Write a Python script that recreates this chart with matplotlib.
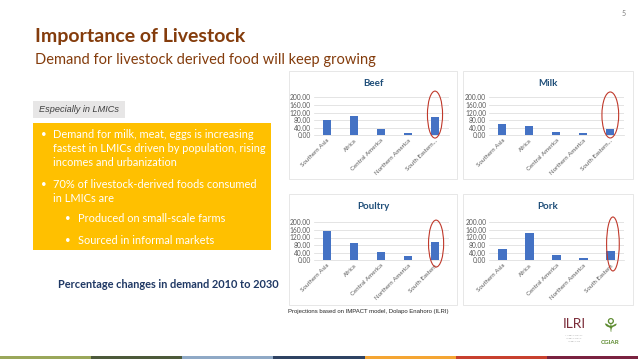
import matplotlib
matplotlib.use("Agg")
import matplotlib.pyplot as plt
from matplotlib.patches import Rectangle, Ellipse

# data (percentage change in demand 2010-2030)
regions_top = ["Southern Asia", "Africa", "Central America", "Northern America", "South Eastern..."]
regions_bottom = ["Southern Asia", "Africa", "Central America", "Northern America", "South Eastern"]
beef = [81, 102, 35, 11, 95]
milk = [60, 49, 18, 14, 33]
poultry = [154, 89, 44, 23, 95]
pork = [60, 146, 28, 10, 51]
y_ticks = [0, 40, 80, 120, 160, 200]

W, H = 638, 359
BROWN = "#843C0C"
BAR = "#4472C4"
GREY_TXT = "#595959"

plt.rcParams["font.family"] = ["Lato", "DejaVu Sans"]
fig = plt.figure(figsize=(W / 100, H / 100), dpi=100)
fig.patch.set_facecolor("white")


def fx(px):
    return px / W


def fy(py):
    return 1 - py / H


def frame(x0, y0, x1, y1, **kw):
    fig.patches.append(Rectangle((fx(x0), fy(y1)), fx(x1) - fx(x0), fy(y0) - fy(y1),
                                 transform=fig.transFigure, **kw))


# slide text
fig.text(fx(35), fy(42), "Importance of Livestock", fontsize=14, fontweight="bold",
         color=BROWN, va="baseline")
fig.text(fx(35), fy(64), "Demand for livestock derived food will keep growing", fontsize=10.5,
         color=BROWN, va="baseline")
fig.text(fx(624), fy(14), "5", fontsize=5, color="#7F7F7F", ha="center", va="center")

frame(33, 101, 125, 118, facecolor="#E7E6E6", edgecolor="none")
fig.text(fx(39), fy(109.5), "Especially in LMICs", fontsize=6.6, style="italic",
         color="#3F3F3F", va="center", family=["Liberation Sans"])

frame(33, 123, 271, 250, facecolor="#FFC000", edgecolor="none")
bullets = [
    (41, 53, 134, "Demand for milk, meat, eggs is increasing", True),
    (41, 53, 148, "fastest in LMICs driven by population, rising", False),
    (41, 53, 162, "incomes and urbanization", False),
    (41, 53, 184, "70% of livestock-derived foods consumed", True),
    (41, 53, 198, "in LMICs are", False),
    (65, 78, 219, "Produced on small-scale farms", True),
    (65, 78, 240, "Sourced in informal markets", True),
]
for bx, tx, ty, txt, dot in bullets:
    if dot:
        fig.text(fx(bx), fy(ty), "\u2022", fontsize=7, color="white", va="center")
    fig.text(fx(tx), fy(ty), txt, fontsize=7.9, color="white", va="center")

fig.text(fx(58), fy(284), "Percentage changes in demand 2010 to 2030", fontsize=7.9,
         fontweight="bold", color="#1F3864", va="center")

# chart panels
panels = [
    ("Beef", beef, regions_top, (289, 71, 457, 179), (313.5, 448.5, 97.3, 135.3), (4.0, 109, 0.56, 247)),
    ("Milk", milk, regions_top, (463, 71, 633, 179), (488.8, 623.8, 97.3, 135.3), (4.0, 107, 0.62, 242)),
    ("Poultry", poultry, regions_bottom, (289, 194, 457, 305), (313.5, 448.5, 222.3, 260.3), (4.04, 88, 0.56, 247)),
    ("Pork", pork, regions_bottom, (463, 194, 633, 305), (489, 624, 222.3, 260.3), (4.09, 86, 0.47, 284)),
]
for title, vals, cats, box, ax_px, ell in panels:
    frame(*box, facecolor="none", edgecolor="#E3E3E3", linewidth=0.6)
    l, r, t, b = ax_px
    ax = fig.add_axes([fx(l), fy(b), fx(r) - fx(l), fy(t) - fy(b)])
    x = list(range(len(vals)))
    ax.bar(x, vals, width=0.31, color=BAR, zorder=3)
    ax.set_xlim(-0.5, len(vals) - 0.5)
    ax.set_ylim(0, 200)
    ax.set_yticks(y_ticks)
    ax.set_yticklabels(["%.2f" % v for v in y_ticks], fontsize=4.8)
    ax.set_xticks(x)
    ax.set_xticklabels(cats, rotation=45, ha="right", va="top", rotation_mode="anchor",
                       fontsize=4.4)
    ax.tick_params(length=0, labelcolor=GREY_TXT, pad=2)
    ax.grid(axis="y", color="#D9D9D9", linewidth=0.5, zorder=0)
    for s in ["top", "right", "left"]:
        ax.spines[s].set_visible(False)
    ax.spines["bottom"].set_color("#D9D9D9")
    ax.spines["bottom"].set_linewidth(0.5)
    ax.patch.set_alpha(0)
    ex, ey, ew, eh = ell
    ax.add_patch(Ellipse((ex, ey), ew, eh, facecolor="none", edgecolor="#C0392B",
                         linewidth=0.8, clip_on=False, zorder=4))
    fig.text(fx((box[0] + box[2]) / 2), fy(box[1] + 13), title, fontsize=7, fontweight="bold",
             color="#1F4E79", ha="center", va="center")

fig.text(fx(288), fy(312), "Projections based on IMPACT model, Dolapo Enahoro (ILRI)",
         fontsize=4.3, color="#262626", va="center", family=["Liberation Sans"])

# logos (text only)
fig.text(fx(574), fy(324), "ILRI", fontsize=10, color="#7B2D3A", ha="center", va="center")
for i, yy in enumerate([335, 338, 341]):
    fig.text(fx(574), fy(yy), "INTERNATIONAL LIVESTOCK RESEARCH"[: 14 - 2 * i], fontsize=1.5,
             color="#9A9A9A", ha="center", va="center")
fig.text(fx(610), fy(342), "CGIAR", fontsize=4.5, fontweight="bold", color="#5E8C31",
         ha="center", va="center")
fig.text(fx(610), fy(327), "\u2698", fontsize=14, color="#5E8C31", ha="center", va="center",
         family=["DejaVu Sans"])

# bottom stripe
stripe_colors = ["#9AA75A", "#4D5A3A", "#8FA9C6", "#2F4363", "#F4A533", "#C8402E", "#7A2240"]
seg = W / len(stripe_colors)
for i, c in enumerate(stripe_colors):
    frame(i * seg, 356, (i + 1) * seg, 359, facecolor=c, edgecolor="none")

fig.savefig("out.png", dpi=100)
